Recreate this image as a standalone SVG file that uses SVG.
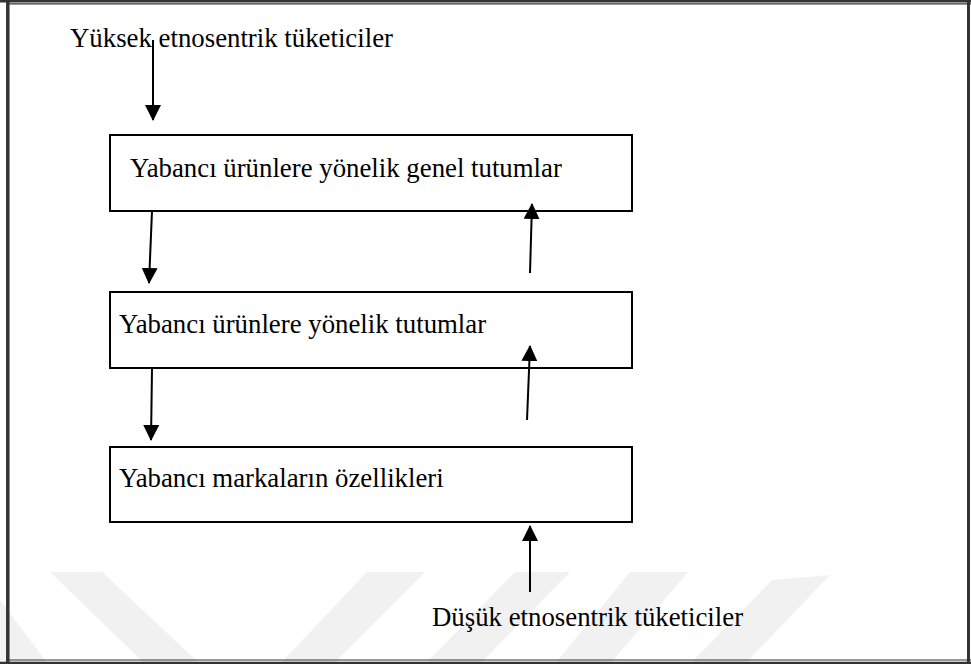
<svg xmlns="http://www.w3.org/2000/svg" width="971" height="664" viewBox="0 0 971 664">
<style>
.lbl{font-family:"Liberation Serif","Times New Roman",serif;font-size:26.8px;fill:#000}
.box{fill:none;stroke:#000;stroke-width:2}
.con{stroke:#000;stroke-width:2;fill:none}
.wm{fill:#f1f1f1;stroke:none}
.frame{stroke:#333;fill:none}
</style>
<defs>
<marker id="ah" markerUnits="userSpaceOnUse" markerWidth="16" markerHeight="16" refX="15" refY="8" orient="auto">
<path d="M0,0 L16,8 L0,16 z" fill="#000"/>
</marker>
</defs>
<rect width="971" height="664" fill="#fff"/>
<g id="watermark">
<polygon class="wm" points="0,600 0,664 48,664"/>
<polygon class="wm" points="50,572 102,572 200,664 145,664"/>
<polygon class="wm" points="367,572 425,572 333,664 280,664"/>
<polygon class="wm" points="515,572 570,572 480,664 425,664"/>
<polygon class="wm" points="630,572 688,572 610,664 555,664"/>
<polygon class="wm" points="772,580 830,575 745,664 690,664"/>
</g>
<g id="frame">
<line class="frame" x1="0" y1="1.2" x2="971" y2="1.2" stroke-width="2.5"/>
<line class="frame" x1="8" y1="3.8" x2="971" y2="3.8" stroke-width="1.2"/>
<line class="frame" x1="7.8" y1="0" x2="7.8" y2="664" stroke-width="3.5"/>
<line class="frame" x1="968.5" y1="0" x2="968.5" y2="664" stroke-width="3"/>
<line class="frame" x1="8" y1="660" x2="971" y2="660" stroke-width="1.2"/>
<line class="frame" x1="0" y1="663" x2="971" y2="663" stroke-width="2.5"/>
</g>
<g id="n_high">
<text class="lbl" x="70" y="47">Yüksek etnosentrik tüketiciler</text>
</g>
<g id="n_general">
<rect class="box" x="110" y="135" width="522" height="76"/>
<text class="lbl" x="130" y="177">Yabancı ürünlere yönelik genel tutumlar</text>
</g>
<g id="n_attitudes">
<rect class="box" x="110" y="292" width="522" height="76"/>
<text class="lbl" x="119" y="333">Yabancı ürünlere yönelik tutumlar</text>
</g>
<g id="n_brands">
<rect class="box" x="110" y="447" width="522" height="75"/>
<text class="lbl" x="119" y="487">Yabancı markaların özellikleri</text>
</g>
<g id="n_low">
<text class="lbl" x="432" y="626">Düşük etnosentrik tüketiciler</text>
</g>
<g id="connectors">
<line class="con" x1="153" y1="40" x2="153" y2="120" marker-end="url(#ah)"/>
<line class="con" x1="152" y1="211" x2="149" y2="283" marker-end="url(#ah)"/>
<line class="con" x1="152" y1="369" x2="151" y2="440" marker-end="url(#ah)"/>
<line class="con" x1="530" y1="273" x2="532" y2="204" marker-end="url(#ah)"/>
<line class="con" x1="527" y1="420" x2="530" y2="346" marker-end="url(#ah)"/>
<line class="con" x1="530" y1="592" x2="530" y2="526" marker-end="url(#ah)"/>
</g>
</svg>
